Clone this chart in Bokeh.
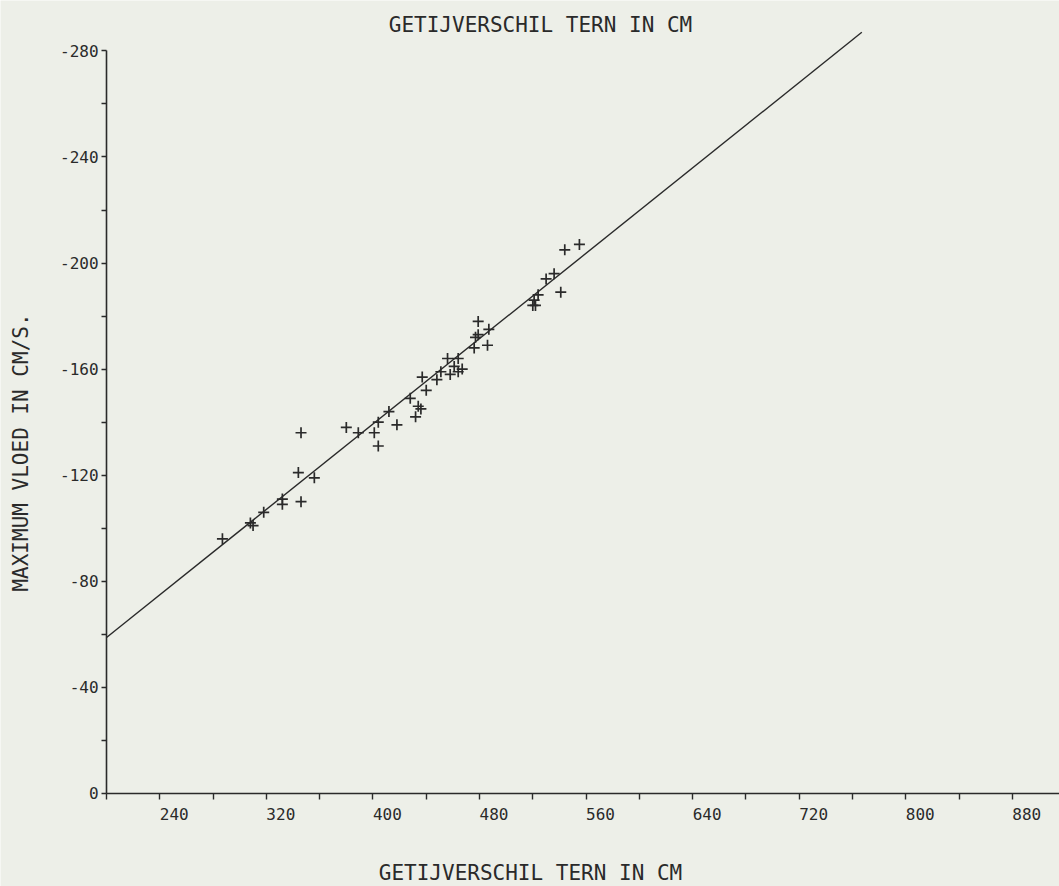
import math
from bokeh.plotting import figure
from bokeh.models import Range1d, FixedTicker, Label, LinearAxis, CustomJSTickFormatter
from bokeh.embed import file_html
from bokeh.resources import INLINE

# ---- data ----
getijverschil = [287, 308, 310, 318, 332, 332, 344, 346, 356, 346,
                 380, 389, 404, 401, 404, 412, 418, 428, 434, 436,
                 432, 437, 440, 448, 451, 458, 456, 464, 461, 467,
                 464, 476, 477, 479, 479, 487, 486, 521, 520, 522,
                 524, 530, 536, 541, 544, 555]
max_vloed = [-96, -102, -101, -106, -111, -109, -121, -110, -119, -136,
             -138, -136, -140, -136, -131, -144, -139, -149, -146, -145,
             -142, -157, -152, -156, -159, -158, -164, -164, -161, -160,
             -159, -168, -172, -173, -178, -175, -169, -186, -184, -184,
             -188, -194, -196, -189, -205, -207]
fit_x = [200, 767]
fit_y = [-58.8, -287]

x_major_ticks = [240, 320, 400, 480, 560, 640, 720, 800, 880]
x_minor_ticks = [200, 280, 360, 440, 520, 600, 680, 760, 840, 920]
y_major_ticks = [0, -40, -80, -120, -160, -200, -240, -280]
y_minor_ticks = [-20, -60, -100, -140, -180, -220, -260]

title_text = "GETIJVERSCHIL TERN IN CM"
x_title = "GETIJVERSCHIL TERN IN CM"
y_title = "MAXIMUM VLOED IN CM/S."

# ---- style ----
PAPER = "#edefe8"
INK = "#2a2a2a"
FONT = "DejaVu Sans Mono"

# the frame fills the whole page; axes are pinned at x=200 and y=0
p = figure(width=1059, height=886,
           x_range=Range1d(120.4, 915.4), y_range=Range1d(35.1, -299.0),
           x_axis_location=None, y_axis_location=None,
           output_backend="svg", toolbar_location=None,
           min_border_left=0, min_border_right=0,
           min_border_top=0, min_border_bottom=0)
p.background_fill_color = PAPER
p.border_fill_color = PAPER
p.outline_line_color = None
p.grid.visible = False

xa = LinearAxis(fixed_location=0, bounds=(200, 916))
xa.ticker = FixedTicker(ticks=x_major_ticks, minor_ticks=x_minor_ticks)
xa.major_tick_out = 6
xa.major_tick_in = 0
xa.minor_tick_out = 6
xa.minor_tick_in = 0
xa.axis_line_color = INK
xa.axis_line_width = 1.6
xa.major_tick_line_color = INK
xa.minor_tick_line_color = INK
xa.major_tick_line_width = 1.4
xa.minor_tick_line_width = 1.4
xa.major_label_standoff = 6
xa.major_label_text_font = FONT
xa.major_label_text_font_size = "16px"
xa.major_label_text_color = INK
# labels start at their tick (padded with no-break spaces)
xa.formatter = CustomJSTickFormatter(
    code="return '\\u00a0\\u00a0\\u00a0' + tick.toFixed(0);")
p.add_layout(xa, "below")

ya = LinearAxis(fixed_location=200, bounds=(-280, 0))
ya.ticker = FixedTicker(ticks=y_major_ticks, minor_ticks=y_minor_ticks)
ya.major_tick_out = 5
ya.major_tick_in = 0
ya.minor_tick_out = 5
ya.minor_tick_in = 0
ya.axis_line_color = INK
ya.axis_line_width = 1.6
ya.major_tick_line_color = INK
ya.minor_tick_line_color = INK
ya.major_tick_line_width = 1.4
ya.minor_tick_line_width = 1.4
ya.major_label_standoff = 3
ya.major_label_text_font = FONT
ya.major_label_text_font_size = "16px"
ya.major_label_text_color = INK
ya.formatter = CustomJSTickFormatter(code="return tick.toFixed(0);")
p.add_layout(ya, "left")

# fit line and points
p.line(fit_x, fit_y, line_color=INK, line_width=1.4)
p.scatter(getijverschil, max_vloed, marker="cross", size=11,
          line_color=INK, line_width=1.7)

# titles (screen units, measured from the page's bottom-left corner)
p.add_layout(Label(x=540, y=862, x_units="screen", y_units="screen",
                   text=title_text, text_align="center", text_baseline="middle",
                   text_font=FONT, text_font_size="21px", text_color=INK))
p.add_layout(Label(x=530, y=14, x_units="screen", y_units="screen",
                   text=x_title, text_align="center", text_baseline="middle",
                   text_font=FONT, text_font_size="21px", text_color=INK))
p.add_layout(Label(x=20, y=434, x_units="screen", y_units="screen",
                   text=y_title, text_align="center", text_baseline="middle",
                   angle=math.pi / 2,
                   text_font=FONT, text_font_size="21px", text_color=INK))

html = file_html(p, INLINE)
html = html.replace("<body>", '<body style="margin:0;background:%s;">' % PAPER, 1)
open("out.html", "w").write(html)
